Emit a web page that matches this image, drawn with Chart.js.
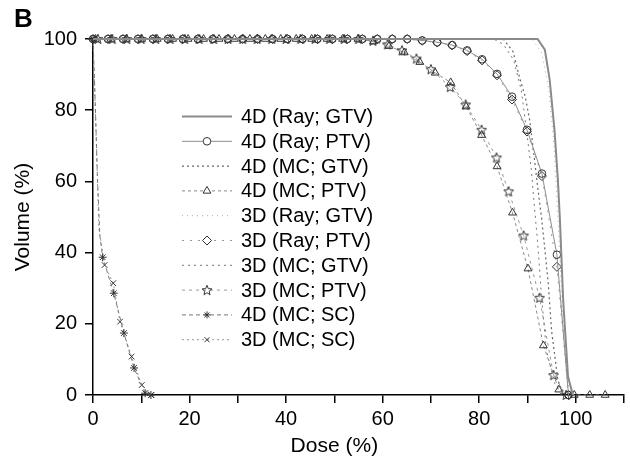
<!DOCTYPE html>
<html>
<head>
<meta charset="utf-8">
<script src="https://cdn.jsdelivr.net/npm/chart.js@4.4.0/dist/chart.umd.min.js"></script>
<style>
  html, body { margin: 0; padding: 0; background: #fff; }
  #wrap { width: 630px; height: 467px; }
</style>
</head>
<body>
<div id="wrap"><canvas id="chart" width="630" height="467"></canvas></div>
<script>
const seriesNames = ['4D (Ray; GTV)', '4D (Ray; PTV)', '4D (MC; GTV)', '4D (MC; PTV)', '3D (Ray; GTV)',
  '3D (Ray; PTV)', '3D (MC; GTV)', '3D (MC; PTV)', '4D (MC; SC)', '3D (MC; SC)'];

// DVH curves, dose (%) vs volume (%)
const rayGtv4dDose = [0, 92.1, 93.6, 94.6, 95.6, 96.3, 96.7, 97.4, 98.4, 99.4];
const rayGtv4dVol = [100, 100, 97, 88.6, 74.5, 60.5, 50, 26.7, 5.2, 0];

const rayPtvDose = [0, 3.1, 6.2, 9.3, 12.4, 15.5, 18.6, 21.7, 24.8, 27.9, 31, 34.1, 37.2, 40.3, 43.4, 46.5,
  49.6, 52.7, 55.8, 58.9, 62, 65.1, 68.2, 71.3, 74.4, 77.5, 80.6, 83.7, 86.8, 89.9, 93, 96.1, 98.5];
const rayPtv4dVol = [100, 100, 100, 100, 100, 100, 100, 100, 100, 100, 100, 100, 100, 100, 100, 100,
  100, 100, 100, 100, 100, 100, 99.6, 99.1, 98.3, 96.8, 94.3, 90.2, 83.8, 74.5, 62.2, 39.4, 0];
const rayPtv3dVol = [100, 100, 100, 100, 100, 100, 100, 100, 100, 100, 100, 100, 100, 100, 100, 100,
  100, 100, 100, 100, 100, 100, 99.5, 99, 98.2, 96.6, 94, 89.8, 83, 74, 61.5, 36, 0];

const mcGtv4dDose = [0, 85, 87, 88.4, 89.5, 90.5, 91.3, 92.1, 92.9, 93.6, 94.3, 95, 96.3, 97.5];
const mcGtv4dVol = [100, 100, 96.5, 89, 84, 77, 68, 58.6, 50, 41, 31.5, 18, 4.2, 0];

const mcPtv4dDose = [0.5, 3.7, 6.9, 10.1, 13.3, 16.5, 19.7, 22.9, 26.1, 29.3, 32.5, 35.7, 38.9, 42.1, 45.3,
  48.5, 51.7, 54.9, 58.1, 61.3, 64.5, 67.7, 70.9, 74.1, 77.3, 80.5, 83.7, 86.9, 90.1, 93.3, 96.5, 99.7, 102.9, 106.1];
const mcPtv4dVol = [100, 100, 100, 100, 100, 100, 100, 100, 100, 100, 100, 100, 100, 100, 100,
  100, 100, 100, 99.3, 98, 96.2, 93.5, 90.5, 87.8, 81, 73, 64.2, 51.2, 35.5, 13.9, 1.5, 0, 0, 0];

const rayGtv3dDose = [0, 91, 93, 94.5, 95.5, 96.3, 97.2, 98.2, 98.8];
const rayGtv3dVol = [100, 100, 96, 85, 70, 50, 25, 5, 0];

const mcGtv3dDose = [0, 83, 85, 87.1, 88.7, 89.8, 90.8, 91.5, 92.1, 92.9, 93.9, 95.6, 97];
const mcGtv3dVol = [100, 100, 98.5, 94.2, 85.8, 74.5, 63.3, 52, 43, 28, 12.7, 3.4, 0];

const mcPtv3dDose = [1, 4, 7, 10, 13, 16, 19, 22, 25, 28, 31, 34, 37, 40, 43, 46, 49, 52, 55,
  58, 61, 64, 67, 70, 74, 77.2, 80.5, 83.6, 86.1, 89.2, 92.5, 95.4, 98];
const mcPtv3dVol = [100, 100, 100, 100, 100, 100, 100, 100, 100, 100, 100, 100, 100, 100, 100, 100, 100, 100, 100,
  99.5, 98.5, 96.8, 94.5, 91.5, 86.5, 81.6, 74.5, 66.7, 57.2, 44.8, 27.3, 5.6, 0];

const mcSc4dDose = [0, 0.4, 0.9, 1.4, 2, 4.3, 6.4, 8.5, 10.8, 12];
const mcSc4dVol = [100, 85, 62, 45, 38.7, 28.6, 17.4, 7.6, 0.5, 0];

const mcSc3dDose = [0, 0.6, 1.2, 2.4, 4.2, 5.6, 8, 10.1, 12.1];
const mcSc3dVol = [100, 75, 47, 36.5, 31.4, 20.6, 10.8, 2.8, 0];

const xTicks = [0, 20, 40, 60, 80, 100];

const FONT = '"Liberation Sans", Arial, sans-serif';
Chart.defaults.font.family = FONT;
Chart.defaults.color = '#000';

const pts = (d, v) => d.map((x, i) => ({x: x, y: v[i]}));

// open five point star marker
const makeStar = function() {
  const c = document.createElement('canvas');
  c.width = 12; c.height = 12;
  const g = c.getContext('2d');
  g.strokeStyle = '#333';
  g.lineWidth = 1;
  g.beginPath();
  for (let i = 0; i < 10; i++) {
    const r = i % 2 ? 2.3 : 5.2;
    const a = -Math.PI / 2 + i * Math.PI / 5;
    const px = 6 + r * Math.cos(a), py = 6.4 + r * Math.sin(a);
    if (i) g.lineTo(px, py); else g.moveTo(px, py);
  }
  g.closePath();
  g.stroke();
  return c;
};
const starImg = makeStar();

const scRadius = c => (c.raw && c.raw.y > 40 && c.raw.y < 100) ? 0 : 4;

const mk = (label, data, color, width, dash, style, radius) => ({
  label: label,
  data: data,
  borderColor: color,
  borderWidth: width,
  borderDash: dash,
  pointStyle: style || 'circle',
  pointRadius: style ? (radius || 4) : 0,
  pointBorderColor: '#333',
  pointBorderWidth: 1,
  pointBackgroundColor: 'rgba(255,255,255,0)',
  pointHoverRadius: 0,
  tension: 0,
  fill: false,
  clip: false
});

const datasets = [
  mk(seriesNames[0], pts(rayGtv4dDose, rayGtv4dVol), '#8a8a8a', 2, []),
  mk(seriesNames[1], pts(rayPtvDose, rayPtv4dVol), '#8c8c8c', 1, [], 'circle', 3.8),
  mk(seriesNames[2], pts(mcGtv4dDose, mcGtv4dVol), '#666', 1.2, [2, 3]),
  mk(seriesNames[3], pts(mcPtv4dDose, mcPtv4dVol), '#888', 1, [3, 3], 'triangle', 4.5),
  mk(seriesNames[4], pts(rayGtv3dDose, rayGtv3dVol), '#aaa', 1, [1, 4]),
  mk(seriesNames[5], pts(rayPtvDose, rayPtv3dVol), '#999', 1, [2, 6], 'rectRot', 4.5),
  mk(seriesNames[6], pts(mcGtv3dDose, mcGtv3dVol), '#777', 1, [2, 4]),
  mk(seriesNames[7], pts(mcPtv3dDose, mcPtv3dVol), '#999', 1, [3, 4], starImg),
  mk(seriesNames[8], pts(mcSc4dDose, mcSc4dVol), '#777', 1, [4, 3], 'star', 3.5),
  mk(seriesNames[9], pts(mcSc3dDose, mcSc3dVol), '#999', 1, [2, 3], 'crossRot', 3.5)
];
datasets[8].pointRadius = scRadius;
datasets[9].pointRadius = scRadius;

const decorPlugin = {
  id: 'decor',
  afterDraw(chart) {
    const {ctx, scales: {x, y}} = chart;
    ctx.save();
    ctx.fillStyle = '#000';
    ctx.font = 'bold 26px ' + FONT;
    ctx.textAlign = 'left';
    ctx.textBaseline = 'alphabetic';
    ctx.fillText('B', 14, 27);

    ctx.font = '21px ' + FONT;
    ctx.textAlign = 'center';
    ctx.textBaseline = 'middle';
    ctx.fillText('Dose (%)', x.getPixelForValue(50), 446);
    ctx.save();
    ctx.translate(23, (y.top + y.bottom) / 2);
    ctx.rotate(-Math.PI / 2);
    ctx.fillText('Volume (%)', 0, 0);
    ctx.restore();

    // legend inside the plot
    ctx.font = '20px ' + FONT;
    ctx.textAlign = 'left';
    chart.data.datasets.forEach((ds, i) => {
      const ly = 116.5 + i * 24.8;
      ctx.save();
      ctx.strokeStyle = ds.borderColor;
      ctx.lineWidth = ds.borderWidth;
      ctx.setLineDash(ds.borderDash);
      ctx.beginPath();
      ctx.moveTo(182, ly);
      ctx.lineTo(232, ly);
      ctx.stroke();
      ctx.restore();
      if (ds.pointStyle && i !== 0 && i !== 2 && i !== 4 && i !== 6) {
        ctx.save();
        ctx.strokeStyle = '#333';
        ctx.fillStyle = 'rgba(255,255,255,1)';
        ctx.lineWidth = 1;
        Chart.helpers.drawPoint(ctx, {pointStyle: ds.pointStyle, radius: typeof ds.pointRadius === 'number' ? ds.pointRadius : 3.5, borderWidth: 1, rotation: 0}, 207, ly);
        ctx.restore();
      }
      ctx.fillStyle = '#000';
      ctx.fillText(ds.label, 241, ly + 1);
    });
    ctx.restore();
  }
};

const ctx = document.getElementById('chart').getContext('2d');
const chart = new Chart(ctx, {
  type: 'line',
  data: { datasets: datasets },
  plugins: [decorPlugin],
  options: {
    responsive: false,
    animation: false,
    events: [],
    layout: { padding: { left: 0, right: 6, top: 39, bottom: 0 } },
    plugins: { legend: { display: false }, tooltip: { enabled: false } },
    scales: {
      x: {
        type: 'linear',
        min: 0,
        max: 110,
        afterFit: s => { s.height = 72; },
        border: { display: true, color: '#000', width: 1.5 },
        grid: { display: true, drawOnChartArea: false, drawTicks: true, tickLength: 8, color: '#000', lineWidth: 1.5 },
        ticks: {
          stepSize: 10,
          autoSkip: false,
          maxRotation: 0,
          padding: 4,
          font: { size: 20 },
          color: '#000',
          callback: v => xTicks.includes(v) ? String(v) : ''
        }
      },
      y: {
        type: 'linear',
        min: 0,
        max: 100,
        afterFit: s => { s.width = 93; },
        border: { display: true, color: '#000', width: 1.5 },
        grid: { display: true, drawOnChartArea: false, drawTicks: true, tickLength: 8, color: '#000', lineWidth: 1.5 },
        ticks: { stepSize: 20, padding: 8, font: { size: 20 }, color: '#000' }
      }
    }
  }
});
</script>
</body>
</html>
